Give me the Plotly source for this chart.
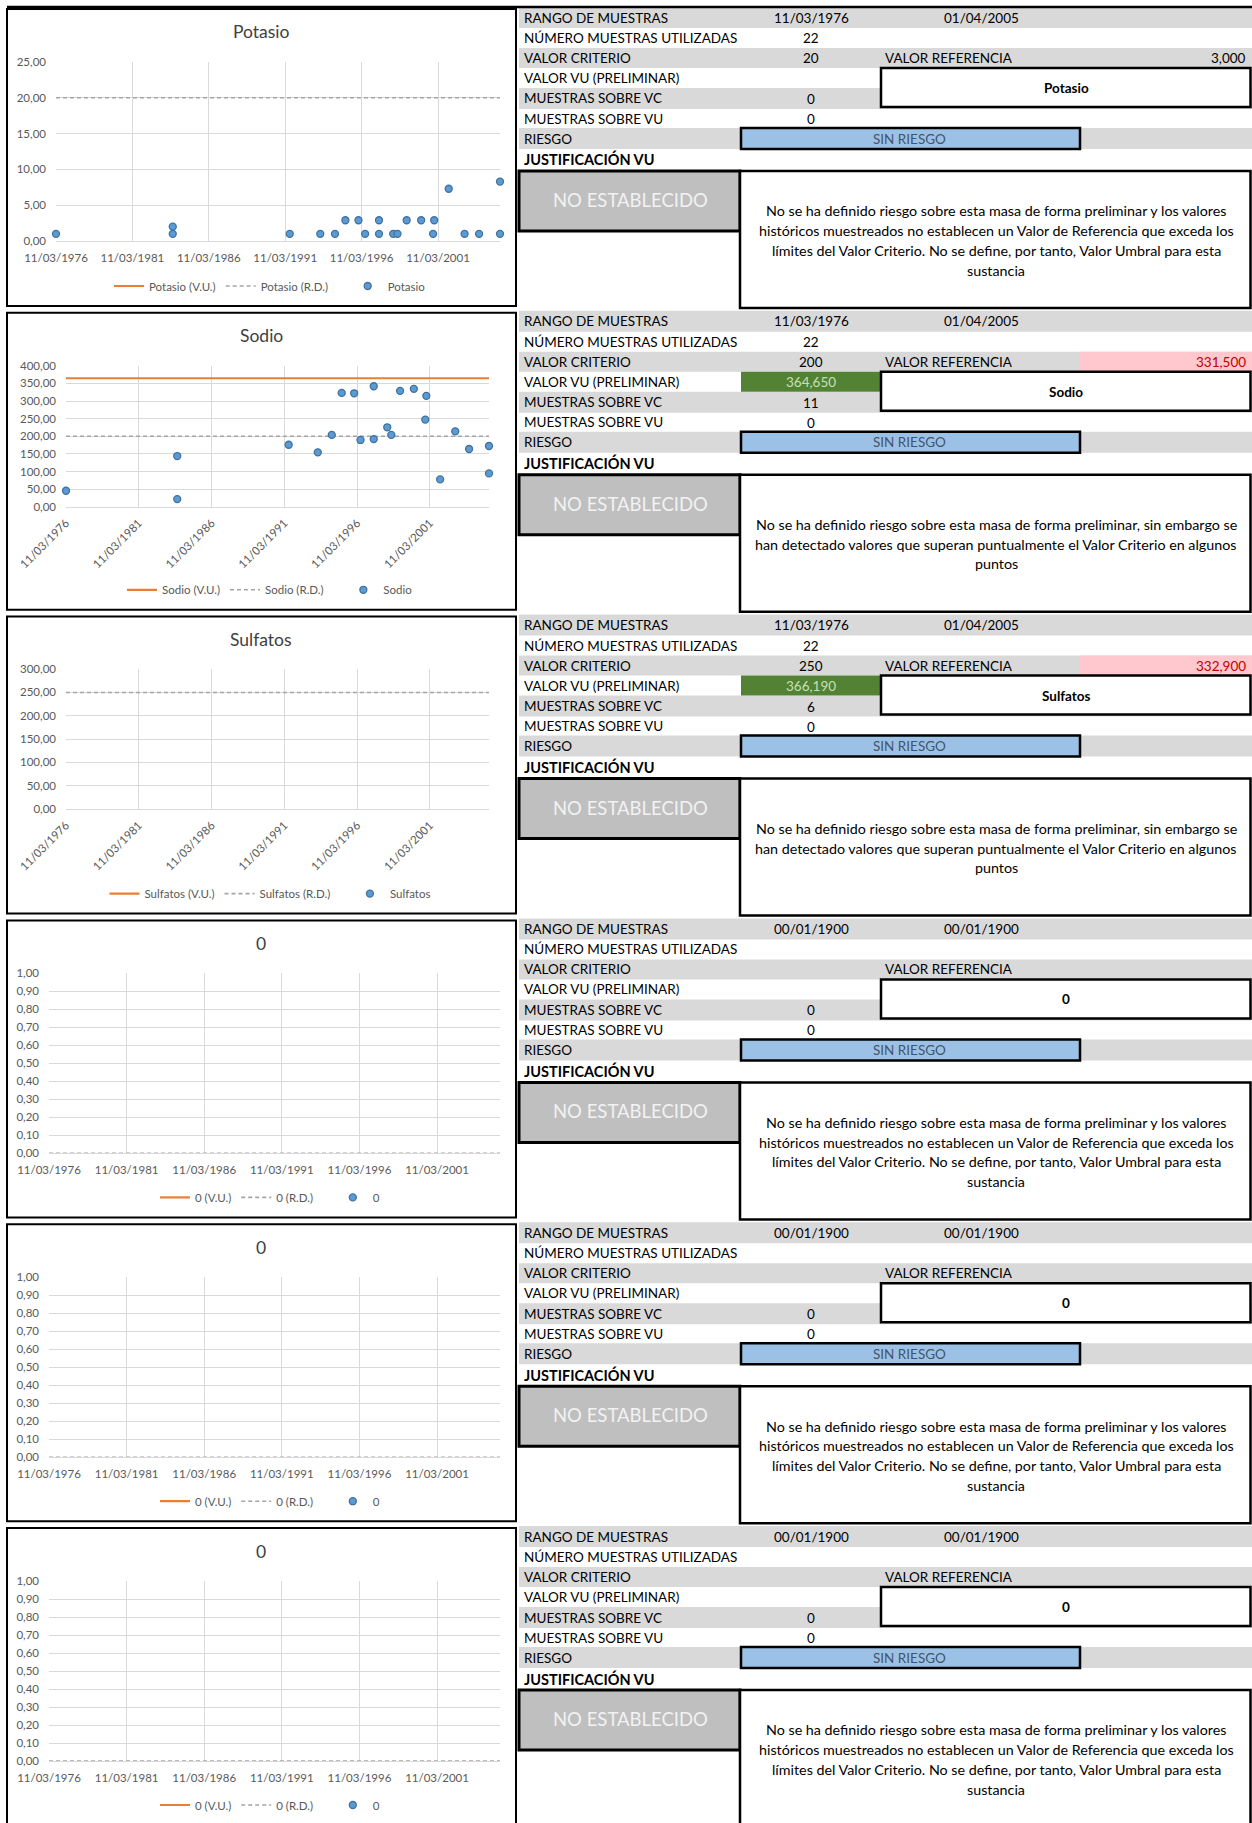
import plotly.graph_objects as go

# ---------------------------------------------------------------- data
# sample dates shared by the analysed series
fechas = ["1976-03-11", "1983-11-01", "1983-11-01", "1991-06-28", "1993-06-27",
          "1994-06-13", "1995-02-17", "1995-12-27", "1996-06-03", "1997-05-01",
          "1997-05-01", "1998-04-05", "1998-07-16", "1999-02-21", "2000-02-02",
          "2000-11-14", "2000-12-10", "2001-11-22", "2002-12-06", "2003-11-18",
          "2005-04-01", "2005-04-01"]
potasio = [1.0, 2.0, 1.0, 1.0, 1.0, 1.0, 2.9, 2.9, 1.0, 2.9, 1.0,
           1.0, 1.0, 2.9, 2.9, 1.0, 2.9, 7.3, 1.0, 1.0, 8.3, 1.0]
sodio = [45.5, 144.0, 21.8, 176.0, 154.5, 204.0, 323.0, 322.0, 189.6, 342.0, 192.0,
         225.6, 204.0, 329.0, 334.6, 247.4, 314.7, 77.7, 214.0, 164.0, 172.5, 94.8]
sulfatos = []

nombres = ["Potasio", "Sodio", "Sulfatos", "0", "0", "0"]
series_valores = [potasio, sodio, sulfatos, [], [], []]
series_fechas = [fechas, fechas, [], [], [], []]
eje_x = ["1976-03-11", "2005-04-01"]
eje_y_max = [25, 400, 300, 1, 1, 1]
eje_y_paso = [5, 50, 50, 0.1, 0.1, 0.1]

fecha_inicio = ["11/03/1976", "11/03/1976", "11/03/1976", "00/01/1900", "00/01/1900", "00/01/1900"]
fecha_fin = ["01/04/2005", "01/04/2005", "01/04/2005", "00/01/1900", "00/01/1900", "00/01/1900"]
muestras_usadas = [22, 22, 22, None, None, None]
valor_criterio = [20, 200, 250, None, None, None]
valor_referencia = [3.0, 331.5, 332.9, None, None, None]
valor_vu = [None, 364.65, 366.19, None, None, None]
linea_rd = [20, 200, 250, 0, 0, 0]
sobre_vc = [0, 11, 6, 0, 0, 0]
sobre_vu = [0, 0, 0, 0, 0, 0]
riesgo = ["SIN RIESGO"] * 6
vu_establecido = ["NO ESTABLECIDO"] * 6

texto_sin_vr = ["No se ha definido riesgo sobre esta masa de forma preliminar y los valores",
                "históricos muestreados no establecen un Valor de Referencia que exceda los",
                "límites del Valor Criterio. No se define, por tanto, Valor Umbral para esta",
                "sustancia"]
texto_puntual = ["No se ha definido riesgo sobre esta masa de forma preliminar, sin embargo se",
                 "han detectado valores que superan puntualmente el Valor Criterio en algunos",
                 "puntos"]
justificacion = [texto_sin_vr, texto_puntual, texto_puntual, texto_sin_vr, texto_sin_vr, texto_sin_vr]

etiquetas = ["RANGO DE MUESTRAS", "NÚMERO MUESTRAS UTILIZADAS", "VALOR CRITERIO",
             "VALOR VU (PRELIMINAR)", "MUESTRAS SOBRE VC", "MUESTRAS SOBRE VU", "RIESGO"]

# ---------------------------------------------------------------- layout geometry (px)
W, H = 1252, 1823
PASO = 303.8
# plot area of each chart inside its block: x0, x1, ytop, ybottom
area = [(56, 500, 62, 241), (66, 489, 62, 203), (66, 489, 61.5, 201.5),
        (49, 500, 62, 242), (49, 500, 62, 242), (49, 500, 62, 242)]
angulo = [0, -45, -45, 0, 0, 0]
filas = [7, 28, 48, 68, 88, 109, 128, 149, 170]
INTERLINEA = 19.7

FONT = "Lato"
GRIS_TXT = "#595959"
NBSP = "\u00a0"

def px(x):
    return x / W

def py(y):
    return 1 - y / H

def num(v, dec):
    return f"{v:.{dec}f}".replace(".", ",")

shapes, annotations = [], []

def rect(x0, y0, x1, y1, fill=None, line=None, lw=0, layer="below"):
    shapes.append(dict(type="rect", xref="paper", yref="paper",
                       x0=px(x0), x1=px(x1), y0=py(y1), y1=py(y0),
                       fillcolor=fill or "rgba(0,0,0,0)",
                       line=dict(color=line or "rgba(0,0,0,0)", width=lw),
                       layer=layer))

def text(x, y, s, anchor="left", size=13.5, color="black", bold=False):
    if bold:
        s = f"<b>{s}</b>"
    annotations.append(dict(xref="paper", yref="paper", x=px(x), y=py(y), text=s,
                            showarrow=False, xanchor=anchor, yanchor="middle",
                            font=dict(family=FONT, size=size, color=color)))

fig = go.Figure()
layout = {}

for i in range(6):
    o = i * PASO
    xs = "" if i == 0 else str(i + 1)
    xa, ya = "x" + xs, "y" + xs
    leg = "legend" + xs
    nombre = nombres[i]
    x0, x1, yt, yb = area[i]

    # ---------- chart
    fig.add_trace(go.Scatter(
        x=eje_x, y=[valor_vu[i], valor_vu[i]], mode="lines", name=f"{nombre} (V.U.)",
        line=dict(color="#ED7D31", width=2.2), xaxis=xa, yaxis=ya, legend=leg,
        hoverinfo="skip"))
    fig.add_trace(go.Scatter(
        x=eje_x, y=[linea_rd[i], linea_rd[i]], mode="lines",
        name=f"{nombre} (R.D.)" + NBSP * 5,
        line=dict(color="#A5A5A5", width=1.6, dash="4px,3px"), xaxis=xa, yaxis=ya,
        legend=leg, hoverinfo="skip"))
    mx = series_fechas[i] if series_valores[i] else [None]
    my = series_valores[i] if series_valores[i] else [None]
    fig.add_trace(go.Scatter(
        x=mx, y=my, mode="markers", name=nombre,
        marker=dict(symbol="circle", size=7, color="#5B9BD5",
                    line=dict(color="#41719C", width=1.3)),
        cliponaxis=False, xaxis=xa, yaxis=ya, legend=leg))

    layout["xaxis" + xs] = dict(
        domain=[px(x0), px(x1)], anchor=ya, type="date", range=eje_x, automargin=False,
        tick0="1976-03-11", dtick="M60", tickformat="%d/%m/%Y", tickangle=angulo[i],
        showgrid=True, gridcolor="#D9D9D9", gridwidth=1, showline=True,
        linecolor="#D9D9D9", ticks="", ticklabelstandoff=6 if angulo[i] == 0 else 4,
        tickfont=dict(family=FONT, size=11.5, color=GRIS_TXT), fixedrange=True)
    layout["yaxis" + xs] = dict(
        domain=[py(o + yb), py(o + yt)], anchor=xa, range=[0, eje_y_max[i]],
        automargin=False, dtick=eje_y_paso[i], tick0=0, tickformat=".2f", showgrid=True,
        gridcolor="#D9D9D9", gridwidth=1, zeroline=False, showline=False, ticks="",
        ticklabelstandoff=9, tickfont=dict(family=FONT, size=11.5, color=GRIS_TXT),
        fixedrange=True)
    layout[leg] = dict(
        orientation="h", x=px(270), y=py(o + 286), xanchor="center", yanchor="middle",
        font=dict(family=FONT, size=11.5, color=GRIS_TXT), bgcolor="rgba(0,0,0,0)",
        itemwidth=30, traceorder="normal")

    text(261, o + 32, nombre, anchor="center", size=17.5, color="#404040")
    rect(7, o + 9, 516, o + 306, line="black", lw=2, layer="above")

    # ---------- table
    c = [(o + filas[k] + o + filas[k + 1]) / 2 for k in range(8)]
    for k in (0, 2, 4, 6):
        rect(519, o + filas[k], W, o + filas[k + 1], fill="#D9D9D9")
    if valor_referencia[i] is not None and valor_criterio[i] is not None \
            and valor_referencia[i] > valor_criterio[i]:
        rect(1080, o + filas[2], W, o + filas[3], fill="#FFC7CE")
        color_vr = "#C00000"
    else:
        color_vr = "black"
    if valor_vu[i] is not None:
        rect(741, o + filas[3], 880, o + filas[4], fill="#548235")
    rect(881, o + 68, W - 1.5, o + 107, fill="white", line="black", lw=2.5)
    rect(741, o + 128, 1080, o + 149, fill="#9BC2E6", line="black", lw=2.5)
    rect(519, o + 171, 740, o + 231, fill="#BFBFBF", line="black", lw=3)
    rect(740, o + 171, W - 1.5, o + 308, fill="white", line="black", lw=2.5)

    for k, lab in enumerate(etiquetas):
        text(522, c[k], lab)
    text(522, c[7], "JUSTIFICACIÓN VU", size=14.5, bold=True)

    text(811, c[0], fecha_inicio[i], anchor="center")
    text(981, c[0], fecha_fin[i], anchor="center")
    if muestras_usadas[i] is not None:
        text(811, c[1], str(muestras_usadas[i]), anchor="center")
    if valor_criterio[i] is not None:
        text(811, c[2], str(valor_criterio[i]), anchor="center")
    text(883, c[2], "VALOR REFERENCIA")
    if valor_referencia[i] is not None:
        text(1248, c[2], num(valor_referencia[i], 3), anchor="right", color=color_vr)
    if valor_vu[i] is not None:
        text(811, c[3], num(valor_vu[i], 3), anchor="center", color="#C6E0B4")
    text(1066, o + 88, nombre, anchor="center", bold=True)
    text(811, c[4] + 0.5, str(sobre_vc[i]), anchor="center")
    text(811, c[5] + 0.5, str(sobre_vu[i]), anchor="center")
    text(910, c[6], riesgo[i], anchor="center", color="#44546A")
    text(630, o + 200, vu_establecido[i], anchor="center", size=18.5, color="#F2F2F2")

    lineas = justificacion[i]
    y0 = o + 240.5 - INTERLINEA * (len(lineas) - 1) / 2
    for k, linea in enumerate(lineas):
        text(996, y0 + k * INTERLINEA, linea, anchor="center", size=14.3)

# top edge of the sheet
shapes.append(dict(type="line", xref="paper", yref="paper", x0=px(7), x1=1,
                   y0=py(7), y1=py(7), line=dict(color="black", width=2.5), layer="above"))

fig.update_layout(
    width=W, height=H, autosize=False, margin=dict(l=0, r=0, t=0, b=0, autoexpand=False),
    paper_bgcolor="white", plot_bgcolor="white", separators=",.",
    shapes=shapes, annotations=annotations, **layout)

fig.write_html("out.html")
